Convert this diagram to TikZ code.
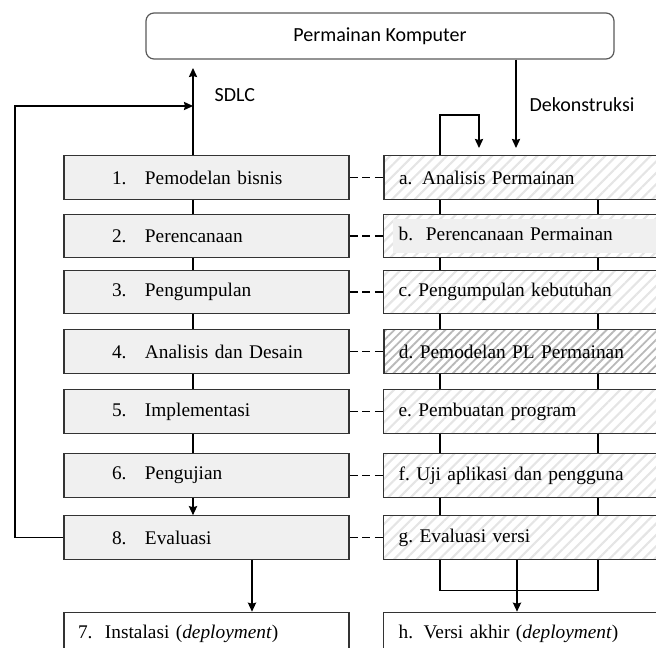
\documentclass[tikz,border=0pt]{standalone}
\usepackage{fontspec}
\setmainfont{Liberation Serif}
\newfontfamily\calibri{Carlito}
\usetikzlibrary{arrows.meta, patterns.meta, positioning, calc}
\definecolor{boxgray}{HTML}{F0F0F0}
\definecolor{edge}{HTML}{333333}
\setlength{\fboxsep}{4pt}
\tikzset{
	sdlcbox/.style={rectangle, draw=edge, fill=boxgray, line width=0.9pt, minimum width=213.75pt, minimum height=32.6pt, text width=213.75pt, inner xsep=0pt, align=left},
	basebox/.style={rectangle, draw=edge, line width=0.9pt, anchor=west, minimum height=32.6pt, text width=220pt, inner xsep=11.25pt, inner ysep=2pt, align=left},
	gamebox/.style={basebox, pattern={Lines[angle=45, distance=6pt, line width=1.6pt]}, pattern color=gray!20},
	topbox/.style={rectangle, draw=black!65, rounded corners=6pt, line width=0.9pt, minimum width=351pt, minimum height=34.5pt, font=\calibri\fontsize{15}{18}\selectfont},
	lbl/.style={font=\calibri\fontsize{15}{18}\selectfont, inner sep=0pt, anchor=west},
	arr/.style={-{Stealth[length=2.4mm, width=2.2mm, inset=0.3mm]}},
	link/.style={dash pattern=on 6pt off 3.5pt}
}
\newcommand{\sdlcitem}[2]{\hspace*{36pt}\makebox[24.75pt][l]{#1}#2}

\begin{document}
\begin{tikzpicture}[x=0.75pt, y=-0.75pt, line width=0.9pt, font=\fontsize{14.5}{17.4}\selectfont]
	\useasboundingbox (0,0) rectangle (656,648);
	\clip (0,0) rectangle (656,648);

	\node[topbox] (game) at (380,36) {Permainan Komputer};

	% SDLC steps
	\node[sdlcbox] (s1) at (206.5,177.5) {\sdlcitem{1.}{Pemodelan bisnis}};
	\node[sdlcbox] (s2) at (206.5,236) {\sdlcitem{2.}{Perencanaan}};
	\node[sdlcbox] (s3) at (206.5,292) {\sdlcitem{3.}{Pengumpulan}};
	\node[sdlcbox] (s4) at (206.5,351.5) {\sdlcitem{4.}{Analisis dan Desain}};
	\node[sdlcbox] (s5) at (206.5,411.5) {\sdlcitem{5.}{Implementasi}};
	\node[sdlcbox] (s6) at (206.5,475.5) {\sdlcitem{6.}{Pengujian}};
	\node[sdlcbox] (s8) at (206.5,537.5) {\sdlcitem{8.}{Evaluasi}};
	\node[sdlcbox, fill=white] (s7) at (206.5,634) {\hspace*{10.5pt}\makebox[20.25pt][l]{7.}Instalasi (\textit{deployment})};

	% deconstruction steps
	\node[gamebox] (ra) at (383,177.5) {a. Analisis Permainan};
	\node[gamebox] (rb) at (383,236) {\hspace*{-4pt}\colorbox{boxgray}{\makebox[212pt][l]{\strut b.\ \ Perencanaan Permainan}}};
	\node[gamebox] (rc) at (383,292) {c.\ Pengumpulan kebutuhan};
	\node[gamebox, pattern={Lines[angle=45, distance=4.5pt, line width=1.4pt]}, pattern color=gray!55] (rd) at (383,351.5) {d.\ Pemodelan PL Permainan};
	\node[gamebox] (re) at (383,411.5) {e.\ Pembuatan program};
	\node[gamebox] (rf) at (383,475.5) {f.\ Uji aplikasi dan pengguna};
	\node[gamebox] (rg) at (383,537.5) {g.\ Evaluasi versi};
	\node[basebox] (rh) at (383,634) {\makebox[18.75pt][l]{h.}Versi akhir (\textit{deployment})};

	\coordinate (lx) at (193,0);
	\coordinate (lm) at (252,0);
	\coordinate (rl) at (440,0);
	\coordinate (rm) at (517,0);
	\coordinate (rr) at (598,0);
	\coordinate (dx) at (516,0);
	\coordinate (sdlc) at (193,68);
	\coordinate (fb) at (15,106);
	\coordinate (dk) at (516,148);
	\coordinate (lptop) at (479,115);
	\coordinate (lp) at (479,148);

	% left chain
	\foreach \a/\b in {s1/s2, s2/s3, s3/s4, s4/s5, s5/s6}
		\draw (\a.south -| lx) -- (\b.north -| lx);
	\draw[arr] (s6.south -| lx) -- (s8.north -| lx);
	\draw[arr] (s8.south -| lm) -- (s7.north -| lm);
	\draw[arr] (s1.north -| lx) -- node[lbl, pos=0.69, xshift=15.75pt] {SDLC} (sdlc);
	\draw[arr] (s8.west) -| (fb) -- (fb -| lx);

	% right chain
	\draw[arr] (game.south -| dx) -- node[lbl, pos=0.506, xshift=9.75pt] {Dekonstruksi} (dk);
	\draw[arr] (ra.north -| rl) |- (lptop) -- (lp);
	\foreach \a/\b in {ra/rb, rb/rc, rc/rd, rd/re, re/rf, rf/rg} {
		\draw (\a.south -| rl) -- (\b.north -| rl);
		\draw (\a.south -| rr) -- (\b.north -| rr);
	}
	\draw (rg.south -| rl) -- ++(0,31) -| (rg.south -| rr);
	\draw[arr] (rg.south -| rm) -- (rh.north -| rm);

	% links between columns
	\foreach \a/\b in {s1/ra, s2/rb, s3/rc, s4/rd, s5/re, s6/rf, s8/rg}
		\draw[link] (\a.east) -- (\b.west);
\end{tikzpicture}
\end{document}
